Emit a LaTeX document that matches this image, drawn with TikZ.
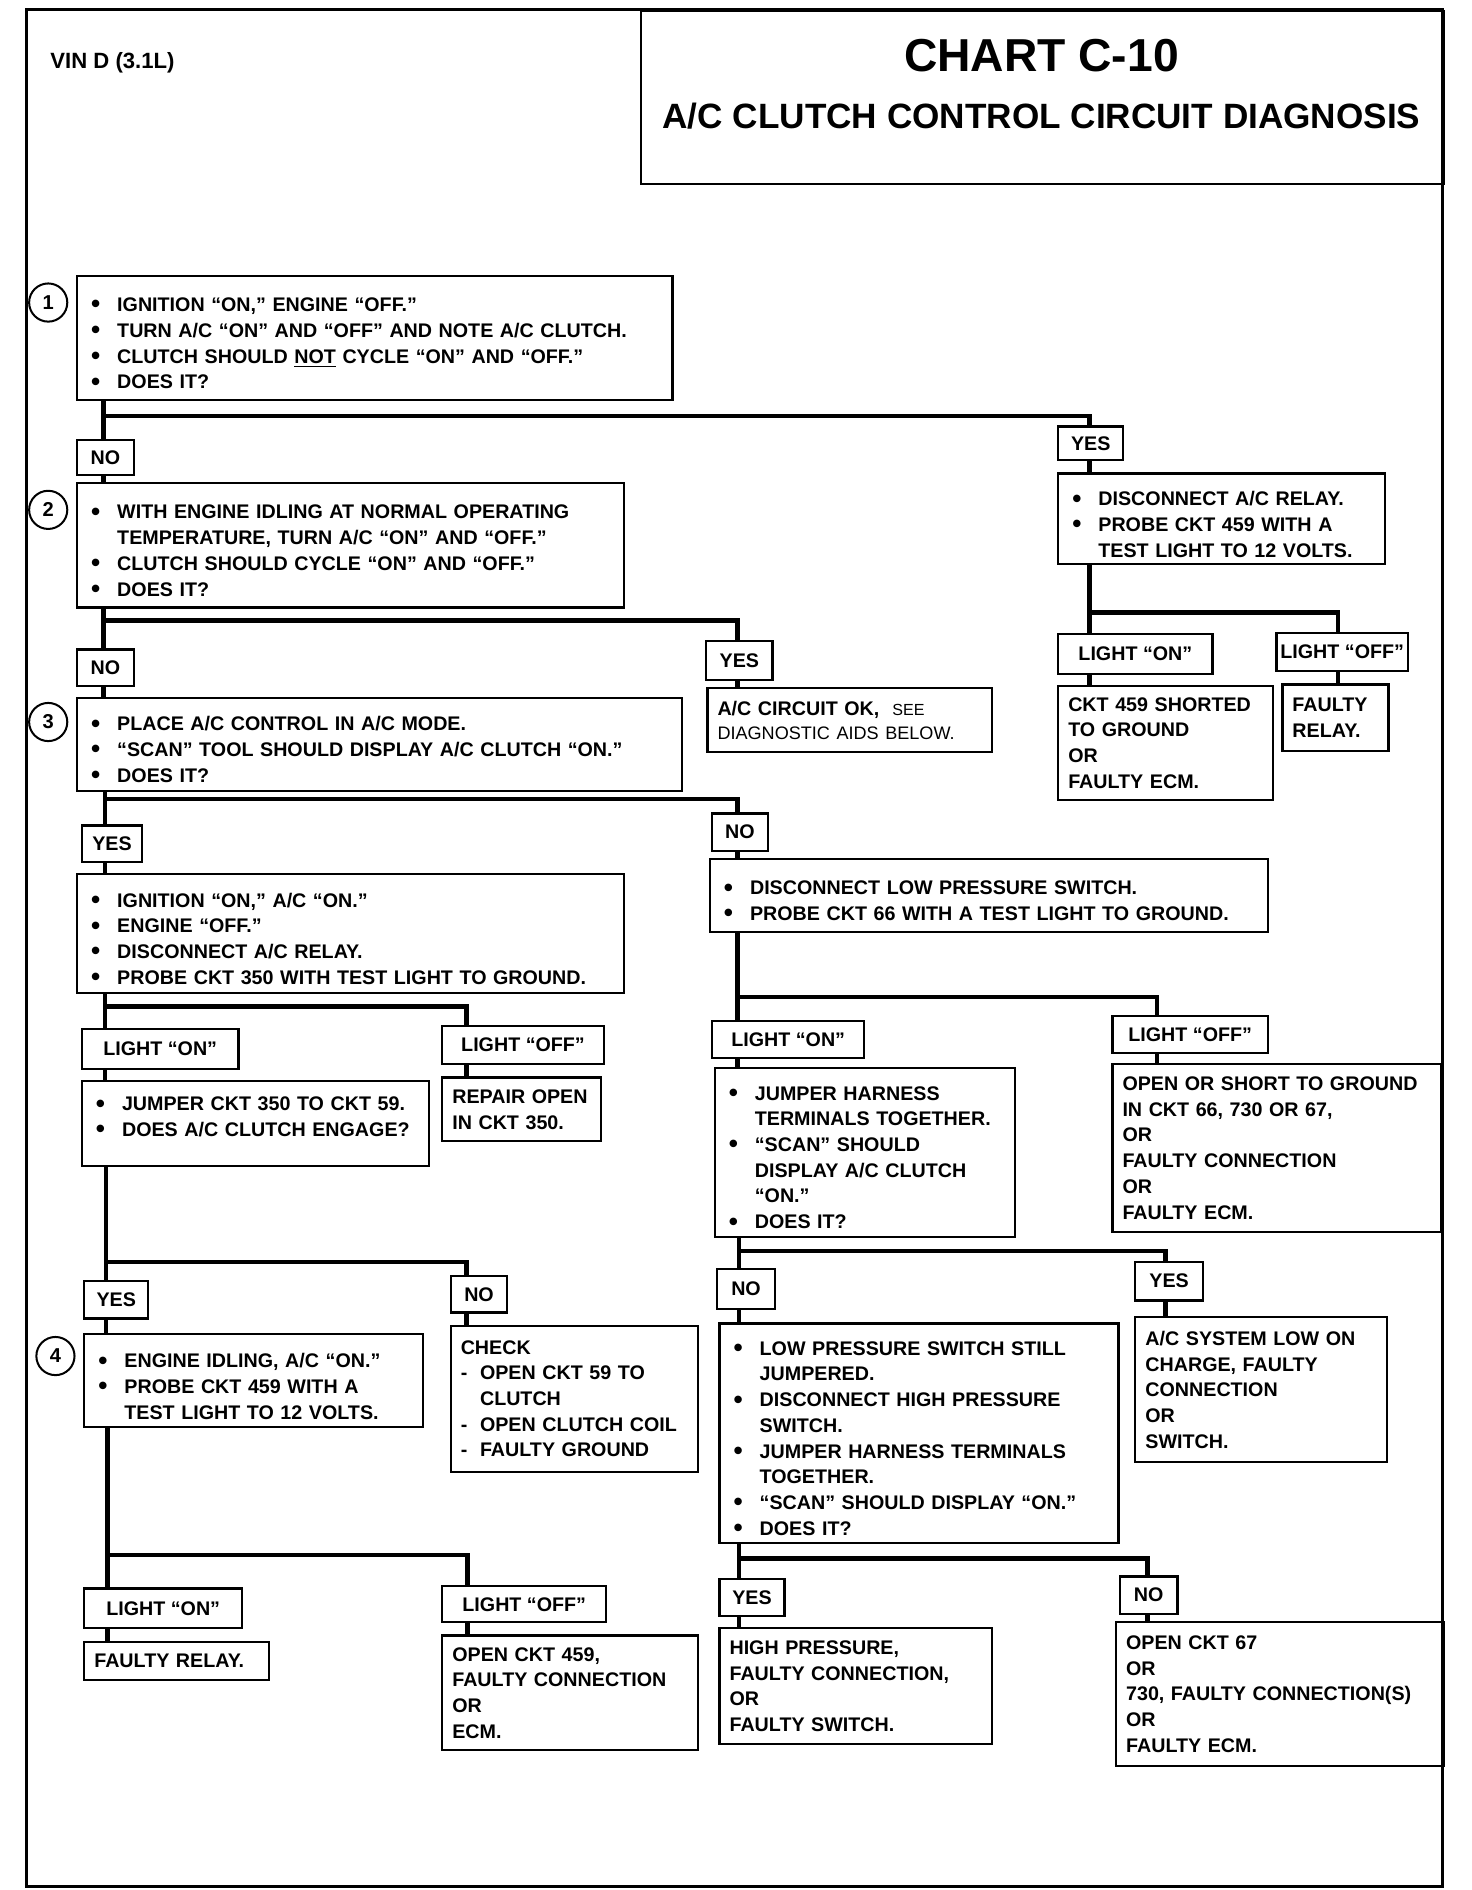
\documentclass[tikz,border=0pt]{standalone}
\usepackage{fontspec}
\setmainfont{Liberation Sans}
\newcommand\bul{\par\hangindent=15pt\hangafter=1\noindent\hbox to 15pt{\hspace{2pt}\raisebox{-0.7pt}{\fontsize{13}{13}\selectfont\textbullet}\hfil}}
\newcommand\dsh{\par\hangindent=9.6pt\hangafter=1\noindent\hbox to 9.6pt{-\hfil}}
\tikzset{
  box/.style={draw,line width=1.1pt,anchor=north west,inner xsep=5pt,inner ysep=2pt,align=left,font=\bfseries\fontsize{9.8}{12.8}\selectfont},
  wh/.style 2 args={minimum width=#1*0.6pt,minimum height=#2*0.6pt,text width=#1*0.6pt-10pt},
  tag/.style 2 args={draw,line width=1.1pt,anchor=north west,inner sep=0pt,minimum width=#1*0.6pt,minimum height=#2*0.6pt,font=\bfseries\fontsize{9.8}{12}\selectfont},
  num/.style={circle,draw,line width=1pt,minimum size=19pt,inner sep=0pt,font=\bfseries\fontsize{10}{12}\selectfont},
  conn/.style={line width=2.3pt},
}
\begin{document}
\begin{tikzpicture}[x=0.6pt,y=-0.6pt]
\useasboundingbox (0,0) rectangle (1221,1568);
\draw[line width=1.6pt] (22,8) rectangle (1197,1565);
% title block
\node[draw,line width=1pt,anchor=north west,minimum width=666*0.6pt,minimum height=144*0.6pt] (ttl) at (531,8) {};
\node[font=\bfseries\fontsize{23}{26}\selectfont] (chart) at (864,46) {CHART C-10};
\node[font=\bfseries\fontsize{17.5}{20}\selectfont] (sub) at (864,96) {A/C CLUTCH CONTROL CIRCUIT DIAGNOSIS};
\node[anchor=west,font=\bfseries\fontsize{11}{13}\selectfont] (vin) at (36,52) {VIN D (3.1L)};

% step 1
\node[box,wh={494}{103}] (b1) at (63,228) {\bul IGNITION “ON,” ENGINE “OFF.”
  \bul TURN A/C “ON” AND “OFF” AND NOTE A/C CLUTCH.
  \bul CLUTCH SHOULD \underline{NOT} CYCLE “ON” AND “OFF.”
  \bul DOES IT?};
\node[tag={47}{29}] (no1) at (63,364) {NO};
\node[tag={54}{28}] (yes1) at (877,353) {YES};
\node[box,wh={271}{75}] (r1) at (877,392) {\bul DISCONNECT A/C RELAY.
  \bul PROBE CKT 459 WITH A\newline TEST LIGHT TO 12 VOLTS.\par};
\node[tag={128}{33}] (lon1) at (877,525) {LIGHT “ON”};
\node[tag={104}{32},inner xsep=2pt] (loff1) at (1058,524) {LIGHT “OFF”};
\node[box,wh={178}{95}] (r2) at (877,568) {CKT 459 SHORTED\\ TO GROUND\\ OR\\ FAULTY ECM.};
\node[box,wh={88}{55}] (r3) at (1063,567) {FAULTY\\ RELAY.};

% step 2
\node[box,wh={454}{103}] (b2) at (63,400) {\bul WITH ENGINE IDLING AT NORMAL OPERATING\newline TEMPERATURE, TURN A/C “ON” AND “OFF.”
  \bul CLUTCH SHOULD CYCLE “ON” AND “OFF.”
  \bul DOES IT?};
\node[tag={47}{30}] (no2) at (63,538) {NO};
\node[tag={55}{32}] (yes2) at (585,531) {YES};
\node[box,wh={236}{53}] (ok) at (586,570) {A/C CIRCUIT OK,~~{\mdseries\fontsize{8}{10}\selectfont SEE}\\[-1pt]
  {\mdseries\fontsize{9}{10}\selectfont DIAGNOSTIC AIDS BELOW.}};

% step 3
\node[box,wh={502}{77}] (b3) at (63,578) {\bul PLACE A/C CONTROL IN A/C MODE.
  \bul “SCAN” TOOL SHOULD DISPLAY A/C CLUTCH “ON.”
  \bul DOES IT?};
\node[tag={50}{30}] (yes3) at (67,684) {YES};
\node[tag={46}{31}] (no3) at (590,674) {NO};
\node[box,wh={454}{99}] (b4) at (63,724) {\bul IGNITION “ON,” A/C “ON.”
  \bul ENGINE “OFF.”
  \bul DISCONNECT A/C RELAY.
  \bul PROBE CKT 350 WITH TEST LIGHT TO GROUND.};
\node[box,wh={463}{60}] (m1) at (588,712) {\bul DISCONNECT LOW PRESSURE SWITCH.
  \bul PROBE CKT 66 WITH A TEST LIGHT TO GROUND.};

% left column
\node[tag={130}{33}] (lon2) at (67,853) {LIGHT “ON”};
\node[tag={134}{32}] (loff2) at (366,850) {LIGHT “OFF”};
\node[box,wh={288}{70}] (b5) at (67,896) {\bul JUMPER CKT 350 TO CKT 59.
  \bul DOES A/C CLUTCH ENGAGE?\par\rule{0pt}{9pt}};
\node[box,wh={132}{53}] (rep) at (366,893) {REPAIR OPEN\\ IN CKT 350.};
\node[tag={53}{31}] (yes4) at (69,1062) {YES};
\node[tag={47}{30}] (no4) at (373,1058) {NO};
\node[box,wh={281}{77}] (b6) at (69,1106) {\bul ENGINE IDLING, A/C “ON.”
  \bul PROBE CKT 459 WITH A\newline TEST LIGHT TO 12 VOLTS.\par};
\node[box,wh={205}{121}] (chk) at (373,1099) {CHECK
  \dsh OPEN CKT 59 TO\newline CLUTCH
  \dsh OPEN CLUTCH COIL
  \dsh FAULTY GROUND};
\node[tag={131}{33}] (lon4) at (69,1317) {LIGHT “ON”};
\node[tag={136}{30}] (loff4) at (366,1315) {LIGHT “OFF”};
\node[box,wh={153}{32}] (fr) at (69,1361) {FAULTY RELAY.};
\node[box,wh={212}{95}] (oc459) at (366,1356) {OPEN CKT 459,\\ FAULTY CONNECTION\\ OR\\ ECM.};

% right column
\node[tag={126}{31}] (lon3) at (590,846) {LIGHT “ON”};
\node[tag={129}{31}] (loff3) at (922,842) {LIGHT “OFF”};
\node[box,wh={249}{140}] (m2) at (592,885) {\bul JUMPER HARNESS\newline TERMINALS TOGETHER.
  \bul “SCAN” SHOULD\newline DISPLAY A/C CLUTCH\newline “ON.”
  \bul DOES IT?};
\node[box,wh={273}{139}] (m3) at (922,882) {OPEN OR SHORT TO GROUND\\ IN CKT 66, 730 OR 67,\\ OR\\ FAULTY CONNECTION\\ OR\\ FAULTY ECM.};
\node[tag={48}{33}] (no5) at (594,1052) {NO};
\node[tag={56}{32}] (yes5) at (941,1046) {YES};
\node[box,wh={331}{182}] (m4) at (596,1097) {\bul LOW PRESSURE SWITCH STILL\newline JUMPERED.
  \bul DISCONNECT HIGH PRESSURE\newline SWITCH.
  \bul JUMPER HARNESS TERMINALS\newline TOGETHER.
  \bul “SCAN” SHOULD DISPLAY “ON.”
  \bul DOES IT?};
\node[box,wh={209}{120}] (m5) at (941,1092) {A/C SYSTEM LOW ON\\ CHARGE, FAULTY\\ CONNECTION\\ OR\\ SWITCH.};
\node[tag={54}{31}] (yes6) at (596,1309) {YES};
\node[tag={48}{31}] (no6) at (928,1307) {NO};
\node[box,wh={226}{96}] (hp) at (596,1350) {HIGH PRESSURE,\\ FAULTY CONNECTION,\\ OR\\ FAULTY SWITCH.};
\node[box,wh={272}{119}] (oc67) at (925,1345) {OPEN CKT 67\\ OR\\ 730, FAULTY CONNECTION(S)\\ OR\\ FAULTY ECM.};

% step numbers
\node[num] (n1) at (40,251) {1};
\node[num] (n2) at (40,423) {2};
\node[num] (n3) at (40,599) {3};
\node[num] (n4) at (46,1125) {4};

% branch corners
\coordinate (j1) at (86,345);   \coordinate (k1) at (904,345);
\coordinate (j2) at (904,508);  \coordinate (k2) at (1110,508);
\coordinate (j3) at (86,515);   \coordinate (k3) at (612,515);
\coordinate (j4) at (87,663);   \coordinate (k4) at (612,663);
\coordinate (j5) at (87,835);   \coordinate (k5) at (387,835);
\coordinate (j6) at (88,1047);  \coordinate (k6) at (387,1047);
\coordinate (j7) at (89,1290);  \coordinate (k7) at (388,1290);
\coordinate (j8) at (612,827);  \coordinate (k8) at (960,827);
\coordinate (j9) at (613,1038); \coordinate (k9) at (967,1038);
\coordinate (j10) at (613,1293); \coordinate (k10) at (952,1293);

\draw[conn] (j1 |- b1.south) -- (j1 |- no1.north) (j1 |- no1.south) -- (j1 |- b2.north)
  (j1) -- (k1) -- (k1 |- yes1.north) (k1 |- yes1.south) -- (k1 |- r1.north);
\draw[conn] (j2 |- r1.south) -- (j2 |- lon1.north) (j2 |- lon1.south) -- (j2 |- r2.north)
  (j2) -- (k2) -- (k2 |- loff1.north) (k2 |- loff1.south) -- (k2 |- r3.north);
\draw[conn] (j3 |- b2.south) -- (j3 |- no2.north) (j3 |- no2.south) -- (j3 |- b3.north)
  (j3) -- (k3) -- (k3 |- yes2.north) (k3 |- yes2.south) -- (k3 |- ok.north);
\draw[conn] (j4 |- b3.south) -- (j4 |- yes3.north) (j4 |- yes3.south) -- (j4 |- b4.north)
  (j4) -- (k4) -- (k4 |- no3.north) (k4 |- no3.south) -- (k4 |- m1.north);
\draw[conn] (j5 |- b4.south) -- (j5 |- lon2.north) (j5 |- lon2.south) -- (j5 |- b5.north)
  (j5) -- (k5) -- (k5 |- loff2.north) (k5 |- loff2.south) -- (k5 |- rep.north);
\draw[conn] (j6 |- b5.south) -- (j6 |- yes4.north) (j6 |- yes4.south) -- (j6 |- b6.north)
  (j6) -- (k6) -- (k6 |- no4.north) (k6 |- no4.south) -- (k6 |- chk.north);
\draw[conn] (j7 |- b6.south) -- (j7 |- lon4.north) (j7 |- lon4.south) -- (j7 |- fr.north)
  (j7) -- (k7) -- (k7 |- loff4.north) (k7 |- loff4.south) -- (k7 |- oc459.north);
\draw[conn] (j8 |- m1.south) -- (j8 |- lon3.north) (j8 |- lon3.south) -- (j8 |- m2.north)
  (j8) -- (k8) -- (k8 |- loff3.north) (k8 |- loff3.south) -- (k8 |- m3.north);
\draw[conn] (j9 |- m2.south) -- (j9 |- no5.north) (j9 |- no5.south) -- (j9 |- m4.north)
  (j9) -- (k9) -- (k9 |- yes5.north) (k9 |- yes5.south) -- (k9 |- m5.north);
\draw[conn] (j10 |- m4.south) -- (j10 |- yes6.north) (j10 |- yes6.south) -- (j10 |- hp.north)
  (j10) -- (k10) -- (k10 |- no6.north) (k10 |- no6.south) -- (k10 |- oc67.north);
\end{tikzpicture}
\end{document}
